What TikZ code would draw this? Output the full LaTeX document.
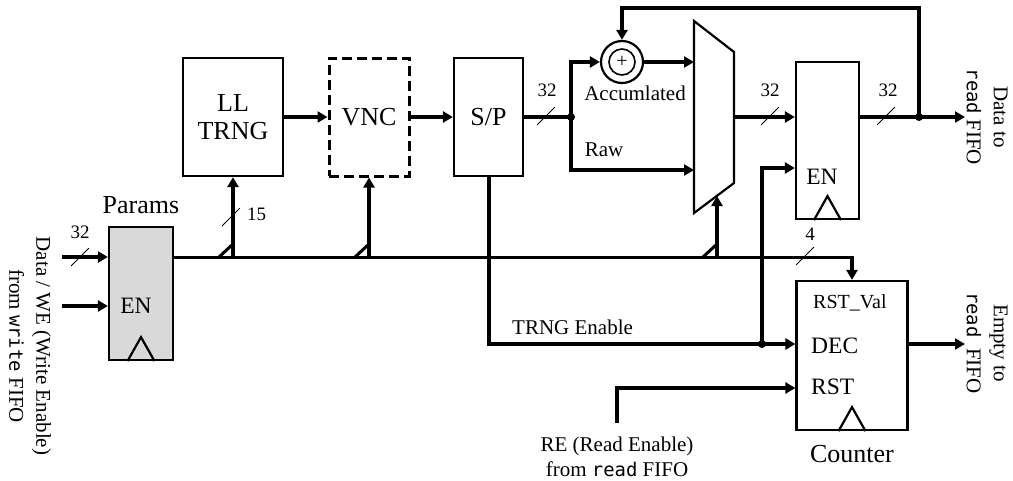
\documentclass[tikz,border=0pt]{standalone}
\usepackage{fontspec}
\setmainfont{Liberation Serif}
\setmonofont{DejaVu Sans Mono}[Scale=0.9]
\usetikzlibrary{arrows.meta, positioning}

\tikzset{
  block/.style = {draw, line width = 2.2pt, inner sep = 0pt, align = center,
                  font = \fontsize{26}{28}\selectfont},
  title/.style = {inner sep = 0pt, font = \fontsize{26}{28}\selectfont},
  port/.style  = {inner sep = 0pt, font = \fontsize{23.5}{26}\selectfont},
  lbl/.style   = {inner sep = 0pt, align = center, font = \fontsize{21}{25}\selectfont},
  sidetxt/.style = {inner sep = 0pt, align = center, rotate = -90,
                  font = \fontsize{21}{27}\selectfont},
  num/.style   = {inner sep = 0pt, font = \fontsize{19}{21}\selectfont},
  sig/.style   = {line width = 4pt, -{Triangle[length = 10pt, width = 11pt]}},
  bus/.style   = {line width = 3pt},
  dot/.style   = {circle, fill, inner sep = 0pt, minimum size = 8pt},
  slash/.style = {minimum size = 18pt, inner sep = 0pt, path picture = {
                  \draw[line width = 1pt] (path picture bounding box.south west)
                    -- (path picture bounding box.north east);}},
}
\newcommand{\clk}[1]{\draw[line width = 2.2pt, line join = miter]
  ([xshift = -13.5pt]#1.south) -- ([yshift = 24pt]#1.south) -- ([xshift = 13.5pt]#1.south);}
\newcommand{\tap}[1]{\draw[sig] (#1 |- bus) -- (#1);
  \draw[bus] (#1 |- bus) ++(-14, 0) -- ++(14, -13);}

\begin{document}
\begin{tikzpicture}[x = 1pt, y = -1pt]
  \useasboundingbox (0, 0) rectangle (1013, 480);

  \node[block, fill = gray!30, minimum width = 64pt, minimum height = 133pt] (params) at (141, 293.5) {};
  \node[block, minimum width = 100pt, minimum height = 118pt] (trng) at (233, 117) {LL\\TRNG};
  \node[block, line width = 3pt, dash pattern = on 10pt off 5pt,
        minimum width = 80pt, minimum height = 118pt] (vnc) at (369, 117) {VNC};
  \node[block, minimum width = 69pt, minimum height = 118pt] (sp) at (488.5, 117) {S/P};
  \node[block, minimum width = 63pt, minimum height = 157pt] (reg) at (827.5, 140.5) {};
  \node[block, minimum width = 111pt, minimum height = 149pt] (cnt) at (852, 355.5) {};
  \clk{params}
  \clk{reg}
  \clk{cnt}

  \node[title] (params-name) [above = 12pt of params] {Params};
  \node[title] (cnt-name) [below = 14pt of cnt] {Counter};
  \node[port, anchor = base] (params-en) at (136, 313) {EN};
  \node[port, anchor = base] (reg-en) at (822, 184) {EN};
  \node[port, anchor = base west, font = \fontsize{20}{22}\selectfont] (cnt-rv) at (813, 308) {RST\_Val};
  \node[port, anchor = base west] (cnt-dec) at (811, 353) {DEC};
  \node[port, anchor = base west] (cnt-rst) at (811, 394) {RST};

  % adder and mux
  \node[circle, draw, line width = 2.2pt, minimum size = 42pt, inner sep = 0pt] (add) at (622, 62) {};
  \node[circle, draw, line width = 1.6pt, minimum size = 26pt, inner sep = 0pt,
        font = \fontsize{20}{20}\selectfont] (add-in) at (add) {+};
  \draw[line width = 2.2pt, line join = miter] (694, 21) -- (734, 52) -- (734, 183) -- (694, 213) -- cycle;
  \coordinate (mux-acc) at (694, 62);
  \coordinate (mux-raw) at (694, 170);
  \coordinate (mux-out) at (734, 117);
  \coordinate (mux-sel) at (717, 196);

  \coordinate (din) at (62, 257);
  \coordinate (wein) at (62, 306);
  \coordinate (bus) at (params.east |- din);
  \coordinate (split) at (571, 117);
  \coordinate (fb) at (919, 117);
  \coordinate (fbtop) at (919, 8);
  \coordinate (dout) at (965, 117);
  \coordinate (endot) at (762, 344);
  \coordinate (reg-enin) at (796, 168);
  \coordinate (rein) at (617, 423);
  \coordinate (rst) at (796, 388);
  \coordinate (eout) at (965, 344);

  \draw[sig] (din) -- (din -| params.west);
  \draw[sig] (wein) -- (wein -| params.west);
  \draw[bus] (bus) -- (cnt.north |- bus);
  \draw[sig, shorten <= -1.5pt] (cnt.north |- bus) -- (cnt.north);
  \tap{trng.south}
  \tap{vnc.south}
  \tap{mux-sel}

  \draw[sig] (trng.east) -- (vnc.west);
  \draw[sig] (vnc.east) -- (sp.west);
  \draw[line width = 4pt] (sp.east) -- (split);
  \draw[sig] (split) |- (add.west);
  \draw[sig] (split) |- (mux-raw);
  \draw[sig] (add.east) -- (mux-acc);
  \draw[sig] (mux-out) -- (mux-out -| reg.west);
  \draw[sig] (reg.east |- dout) -- (dout);
  \draw[sig] (fb) -- (fbtop) -| (add.north);

  \draw[sig] (sp.south) |- (endot) -- (endot -| cnt.west);
  \draw[sig] (endot) |- (reg-enin -| reg.west);
  \draw[sig] (rein) |- (rst -| cnt.west);
  \draw[sig] (cnt.east |- eout) -- (eout);

  \node[dot] (split-dot) at (split) {};
  \node[dot] (fb-dot) at (fb) {};
  \node[dot] (endot-dot) at (endot) {};

  % bus widths
  \foreach \n/\x/\y/\lx/\ly/\w in {din/80/257/80/232/32, trng/231/217/256.5/214/15,
      sp/546/116/547/90/32, mux/770/116/770/90/32, reg/886/116/888/90/32, cnt/805/256/810/234/4} {
    \node[slash] (w-\n) at (\x, \y) {};
    \node[num] (n-\n) at (\lx, \ly) {\w};
  }

  \node[lbl] (acc-txt) at (635, 93) {Accumlated};
  \node[lbl] (raw-txt) at (604, 150) {Raw};
  \node[lbl, anchor = west] (en-txt) at (512, 327) {TRNG Enable};
  \node[lbl] (rein-txt) at (617, 457) {RE (Read Enable)\\from \texttt{read} FIFO};
  \node[sidetxt] (din-txt) at (30, 346) {Data / WE (Write Enable)\\from \texttt{write} FIFO};
  \node[sidetxt] (dout-txt) at (987, 117) {Data to\\\texttt{read} FIFO};
  \node[sidetxt] (eout-txt) at (987, 343) {Empty to\\\texttt{read}\ \ FIFO};
\end{tikzpicture}
\end{document}
